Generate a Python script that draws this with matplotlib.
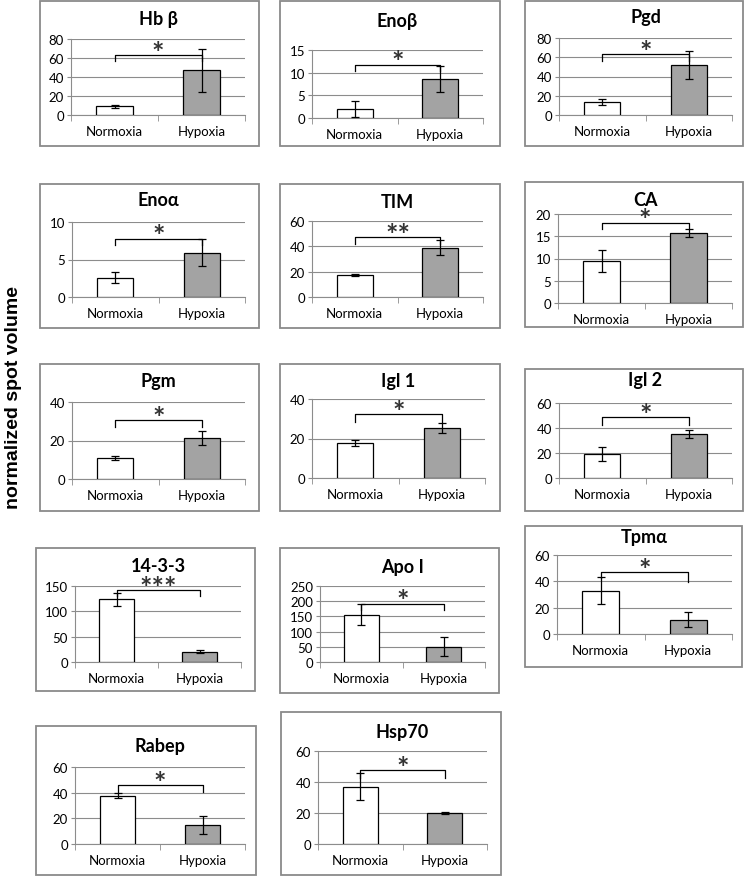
"""Normoxia vs Hypoxia spot volumes — 14 small bar panels in Excel style."""

import matplotlib.pyplot as plt
import matplotlib.patches as mpatches
import numpy as np

# ---- data ----
proteins = ["Hb β", "Enoβ", "Pgd", "Enoα", "TIM", "CA", "Pgm", "Igl 1", "Igl 2",
            "14-3-3", "Apo I", "Tpmα", "Rabep", "Hsp70"]
conditions = ["Normoxia", "Hypoxia"]
normoxia = [9, 2.0, 13.5, 2.6, 17.5, 9.4, 10.8, 17.5, 19, 124, 156, 33, 37.5, 37]
normoxia_err = [2, 1.8, 3, 0.75, 0.8, 2.5, 1, 1.5, 5.5, 13, 34, 10, 2, 8.5]
hypoxia = [47, 8.6, 52, 5.9, 39, 15.8, 21.2, 25.3, 35.3, 20, 50, 11, 14.5, 20]
hypoxia_err = [23, 2.9, 15, 1.8, 6, 0.9, 3.6, 2.7, 3.5, 3, 31, 6, 7, 0.5]
y_max = [80, 15, 80, 10, 60, 20, 40, 40, 60, 150, 250, 60, 60, 60]
y_step = [20, 5, 20, 5, 20, 5, 20, 20, 20, 50, 50, 20, 20, 20]
stars = ["*", "*", "*", "*", "**", "*", "*", "*", "*", "***", "*", "*", "*", "*"]
bracket_top = [63, 11.8, 63, 7.8, 47, 18, 30.6, 32.4, 48.5, 142, 191, 47, 46, 47.7]
bracket_left = [57, 10.3, 56.5, 7.0, 42, 16.6, 27.2, 28.5, 42.7, 131, 171, 42.5, 40.5, 42.6]
bracket_right = [57, 10.3, 56.5, 7.0, 42, 16.6, 27.2, 28.5, 42.7, 131, 171, 39.5, 40.5, 42.6]

# ---- layout in pixels: box (x0, y0, x1, y1), axes (x0, x1, y_top, y_zero), title y ----
W, H = 748, 879
boxes = [(40, 2, 259, 147), (280, 2, 500, 147), (525, 2, 743, 147),
         (40, 185, 259, 329), (280, 185, 500, 329), (525, 183, 743, 328),
         (40, 365, 259, 512), (280, 365, 500, 512), (525, 370, 743, 512),
         (36, 549, 255, 692), (280, 549, 499, 694), (525, 527, 742, 668),
         (36, 727, 256, 876), (281, 713, 501, 876)]
axes_px = [(71, 245, 40, 116), (312, 483, 51, 119), (559, 732, 39, 116),
           (72, 245, 223, 298), (312, 483, 222, 298), (558, 732, 215, 304),
           (72, 245, 403, 480), (312, 485, 400, 479), (559, 732, 404, 479),
           (75, 241, 587, 663), (320, 485, 587, 663), (557, 732, 556, 635),
           (75, 245, 768, 845), (318, 487, 752, 845)]
title_y = [20, 22, 18, 200, 202, 200, 382, 382, 381, 566, 567, 537, 747, 733]

FONT = ["Lato", "DejaVu Sans"]
GRID = "#8c8c8c"

fig = plt.figure(figsize=(W / 100, H / 100), dpi=100)

for i, name in enumerate(proteins):
    bx0, by0, bx1, by1 = boxes[i]
    fig.patches.append(mpatches.Rectangle(
        (bx0 / W, 1 - by1 / H), (bx1 - bx0) / W, (by1 - by0) / H,
        transform=fig.transFigure, fill=False, edgecolor="#8a8a8a", lw=1.3))

    ax0, ax1, ytop, yzero = axes_px[i]
    ax = fig.add_axes([ax0 / W, 1 - yzero / H, (ax1 - ax0) / W, (yzero - ytop) / H])
    ax.bar([0, 1], [normoxia[i], hypoxia[i]], width=0.42,
           color=["white", "#a3a3a3"], edgecolor="black", lw=0.9,
           yerr=[normoxia_err[i], hypoxia_err[i]], capsize=2.8,
           error_kw=dict(lw=0.9, capthick=0.9, ecolor="black"), zorder=3)

    ax.set_xlim(-0.5, 1.5)
    ax.set_ylim(0, y_max[i])
    ax.set_yticks(np.arange(0, y_max[i] + 1e-9, y_step[i]))
    ax.yaxis.grid(True, color=GRID, lw=0.8)
    ax.set_axisbelow(True)
    for s in ("top", "right"):
        ax.spines[s].set_visible(False)
    for s in ("left", "bottom"):
        ax.spines[s].set_color(GRID)
        ax.spines[s].set_linewidth(0.8)

    ax.set_xticks([0, 1])
    ax.set_xticklabels(conditions, family=FONT, fontsize=9.5)
    ax.set_xticks([-0.5, 0.5, 1.5], minor=True)
    ax.tick_params(axis="x", which="major", length=0, pad=7)
    ax.tick_params(axis="x", which="minor", length=4, color=GRID, direction="out")
    ax.tick_params(axis="y", length=3, color=GRID, pad=2)
    for lab in ax.get_yticklabels():
        lab.set_family(FONT)
        lab.set_fontsize(9.5)

    # significance bracket
    ax.plot([0, 0, 1, 1], [bracket_left[i], bracket_top[i], bracket_top[i], bracket_right[i]],
            color="black", lw=0.9, clip_on=False, zorder=4)
    ax.annotate(stars[i], xy=(0.5, bracket_top[i]), xytext=(0, -4),
                textcoords="offset points", ha="center", va="baseline",
                family=FONT, fontsize=21, fontweight="bold", color="#333333",
                zorder=4, annotation_clip=False)

    fig.text((ax0 + ax1) / 2 / W, 1 - title_y[i] / H, name, ha="center", va="center",
             family=FONT, fontsize=13, fontweight="bold")

fig.text(14 / W, 1 - 398 / H, "normalized spot volume", rotation=90,
         ha="center", va="center", family=["Liberation Sans", "DejaVu Sans"],
         fontsize=14, fontweight="bold")

fig.savefig("out.png", dpi=100)
